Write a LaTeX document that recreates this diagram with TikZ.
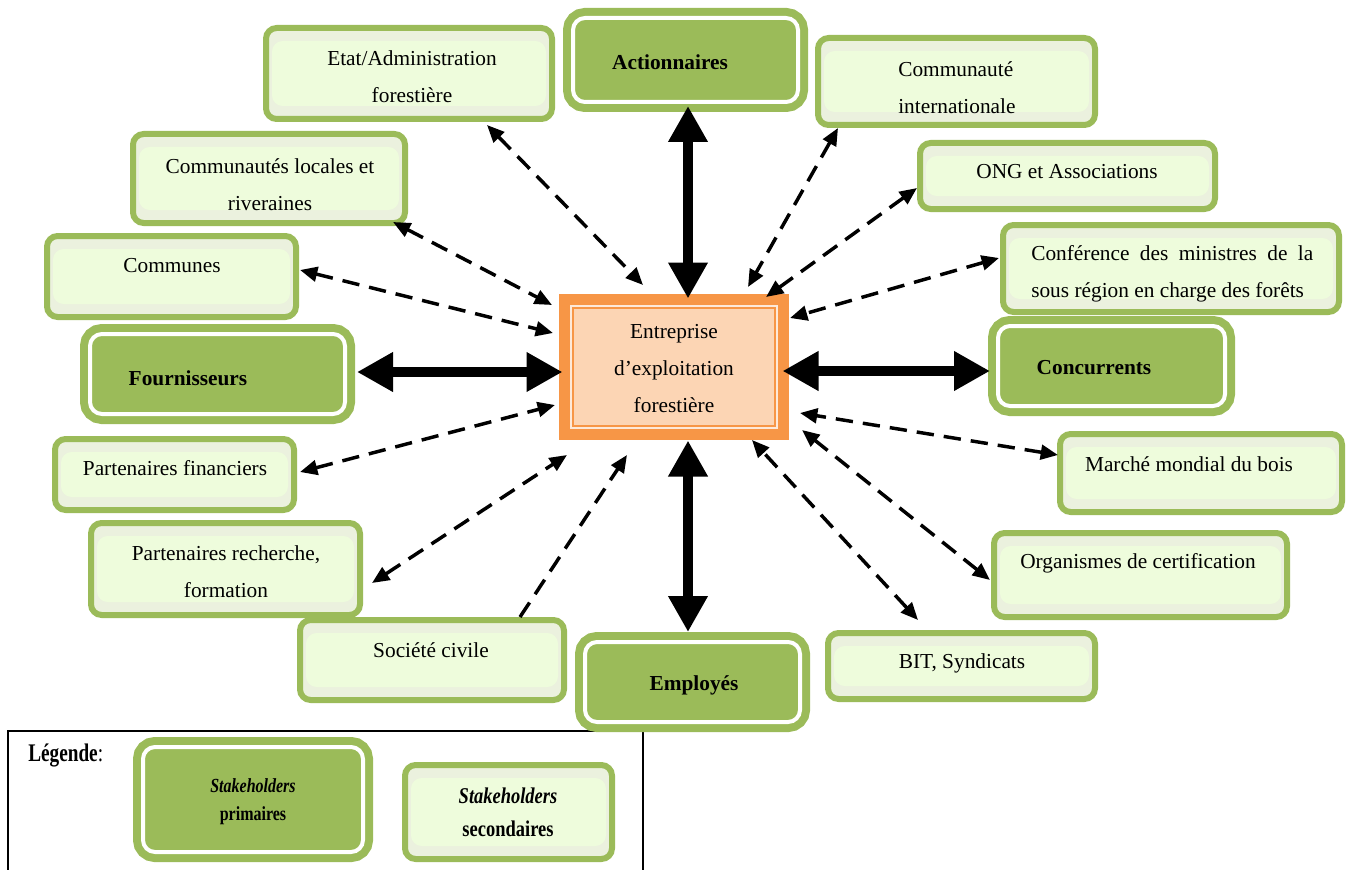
\documentclass[tikz,border=0pt]{standalone}
\usepackage{fontspec}
\setmainfont{Liberation Serif}
\newfontfamily\condA{Liberation Serif}[FakeStretch=0.8]
\newfontfamily\condB{Liberation Serif}[FakeStretch=0.82]
\newfontfamily\condC{Liberation Serif}[FakeStretch=0.76]
\usetikzlibrary{arrows.meta,fit,calc}
\definecolor{sgreen}{HTML}{9BBB59}
\definecolor{secband}{HTML}{EBF1DE}
\definecolor{secmid}{HTML}{EEFCDC}
\definecolor{orng}{HTML}{F79646}
\definecolor{peach}{HTML}{FCD5B4}
\definecolor{peachline}{HTML}{FDE9D9}
\tikzset{
  primbox/.style={draw=sgreen, fill=sgreen, double=white, double distance=3pt,
    line width=6pt, rounded corners=9pt, inner sep=0pt, outer sep=0pt},
  secbox/.style={draw=sgreen, line width=4.5pt, fill=secband, rounded corners=8pt,
    inner sep=0pt, outer sep=0pt,
    path picture={\fill[secmid] ([shift={(6,13)}]path picture bounding box.north west)
      rectangle ([shift={(-6,-13)}]path picture bounding box.south east);}},
  entbox/.style={draw=orng, fill=peach, line width=8.25pt, inner sep=0pt, outer sep=0pt},
  txt/.style={font=\fontsize{16}{27.75}\selectfont, align=center, inner sep=0pt},
  btxt/.style={font=\bfseries\fontsize{16}{27.75}\selectfont, align=center, inner sep=0pt},
  thickarr/.style={line width=8pt, {Triangle[length=27pt,width=28pt]}-{Triangle[length=27pt,width=28pt]}},
  dsharr/.style={line width=2.6pt, dash pattern=on 13pt off 7.5pt,
    {Triangle[length=13pt,width=11pt]}-{Triangle[length=13pt,width=11pt]}},
  dshone/.style={line width=2.6pt, dash pattern=on 13pt off 7.5pt,
    -{Triangle[length=13pt,width=11pt]}},
  legframe/.style={draw=black, line width=1.1pt, inner sep=0pt, outer sep=0pt}
}
\begin{document}
\begin{tikzpicture}[x=0.75pt,y=-0.75pt]
\useasboundingbox (0,0) rectangle (1352,870);
% legend frame
\node[legframe, fit={(8,731) (643,905)}] (legend) {};
% secondary boxes
\node[secbox, fit={(266,28) (552,119)}] (etat) {};
\node[secbox, fit={(818,38) (1095,125)}] (cint) {};
\node[secbox, fit={(920,143) (1215,209)}] (ong) {};
\node[secbox, fit={(1003,225) (1339,312)}] (conf) {};
\node[secbox, fit={(1060,434) (1342,512)}] (mar) {};
\node[secbox, fit={(994,533) (1287,617)}] (org) {};
\node[secbox, fit={(828,633) (1095,699)}] (bit) {};
\node[secbox, fit={(300,620) (564,700)}] (soc) {};
\node[secbox, fit={(91,523) (360,615)}] (prech) {};
\node[secbox, fit={(55,439) (294,510)}] (pfin) {};
\node[secbox, fit={(47,236) (296,317)}] (comm) {};
\node[secbox, fit={(133,134) (405,223)}] (cloc) {};
\node[secbox, fit={(405,765) (612,859)}] (lsec) {};
% primary boxes
\node[primbox, fit={(573,18) (798,102)}] (act) {};
\node[primbox, fit={(998,326) (1225,406)}] (conc) {};
\node[primbox, fit={(585,642) (800,722)}] (emp) {};
\node[primbox, fit={(90,334) (345,414)}] (four) {};
\node[primbox, fit={(143,747) (363,852)}] (lprim) {};
% central box
\node[entbox, fit={(564.5,299.5) (783.5,434.5)}] (ent) {};
\draw[peachline, line width=1.5pt] ([shift={(6.5,6.5)}]ent.north west) rectangle ([shift={(-6.5,-6.5)}]ent.south east);
\draw[orng, line width=1.5pt] ([shift={(8.5,8.5)}]ent.north west) rectangle ([shift={(-8.5,-8.5)}]ent.south east);
% texts
\node[txt] (t-ent) at (674,369) {Entreprise\\d’exploitation\\forestière};
\node[txt] (t-etat) at (412,77) {Etat/Administration\\forestière};
\node[btxt] (t-act) at (670,62) {Actionnaires};
\node[txt, align=left, anchor=west] (t-cint) at (898,88) {Communauté\\internationale};
\node[txt] (t-ong) at (1067,172) {ONG et Associations};
\node[txt, align=left, anchor=west] (t-conf) at (1031,274) {\makebox[211.5pt][s]{Conférence des ministres de la}\\sous région en charge des forêts};
\node[btxt] (t-conc) at (1094,368) {Concurrents};
\node[txt] (t-mar) at (1189,464) {Marché mondial du bois};
\node[txt] (t-org) at (1138,563) {Organismes de certification};
\node[txt] (t-bit) at (962,663) {BIT, Syndicats};
\node[btxt] (t-emp) at (694,685) {Employés};
\node[txt] (t-soc) at (431,650) {Société civile};
\node[txt] (t-prech) at (226,572) {Partenaires recherche,\\formation};
\node[txt] (t-pfin) at (175,468) {Partenaires financiers};
\node[btxt] (t-four) at (188,378) {Fournisseurs};
\node[txt] (t-comm) at (172,266) {Communes};
\node[txt] (t-cloc) at (270,185) {Communautés locales et\\riveraines};
\node[inner sep=0pt, anchor=west, font=\condC\fontsize{19}{22}\selectfont] (t-leg) at (28,755) {\textbf{Légende}:};
\node[inner sep=0pt, align=center, font=\condA\bfseries\fontsize{15}{21}\selectfont] (t-lprim) at (253,802) {\textit{Stakeholders}\\primaires};
\node[inner sep=0pt, align=center, font=\condB\bfseries\fontsize{16.9}{24.75}\selectfont] (t-lsec) at (508,812) {\textit{Stakeholders}\\secondaires};
% thick arrows
\draw[thickarr] ([shift={(2.5,4)}]act.south) -- ([shift={(14,-1)}]ent.north);
\draw[thickarr] ([shift={(12,-2)}]four.east) -- ([shift={(-2,5)}]ent.west);
\draw[thickarr] ([shift={(-1,4)}]ent.east) -- ([shift={(-8,5)}]conc.west);
\draw[thickarr] ([shift={(14,6)}]ent.south) -- ([shift={(-4.5,-10)}]emp.north);
% dashed arrows
\draw[dsharr] ([shift={(78,6)}]etat.south) -- ([shift={(-31,-14.5)}]ent.north);
\draw[dsharr] ([shift={(-12,-1)}]cloc.south east) -- ([shift={(-12.5,5.5)}]ent.north west);
\draw[dsharr] ([shift={(4,-6.5)}]comm.east) -- ([shift={(-11.5,-34)}]ent.west);
\draw[dsharr] ([shift={(6,-2.5)}]pfin.east) -- ([shift={(-9.5,38)}]ent.west);
\draw[dsharr] ([shift={(12,14)}]prech.east) -- ([shift={(2.5,20.5)}]ent.south west);
\draw[dshone] ([shift={(88,-3)}]soc.north) -- ([shift={(-47,20.5)}]ent.south);
\draw[dsharr] ([shift={(20,3)}]cint.south west) -- ([shift={(74,-12.5)}]ent.north);
\draw[dsharr] ([shift={(-3,12)}]ong.west) -- ([shift={(-17.5,-2.5)}]ent.north east);
\draw[dsharr] ([shift={(-4,-10.5)}]conf.west) -- ([shift={(6.5,18.5)}]ent.north east);
\draw[dsharr] ([shift={(-2,-18)}]mar.west) -- ([shift={(16.5,46)}]ent.east);
\draw[dsharr] ([shift={(-4,5)}]org.west) -- ([shift={(18.5,-4.5)}]ent.south east);
\draw[dsharr] ([shift={(-43.5,-13)}]bit.north) -- ([shift={(78,5.5)}]ent.south);
\end{tikzpicture}
\end{document}
